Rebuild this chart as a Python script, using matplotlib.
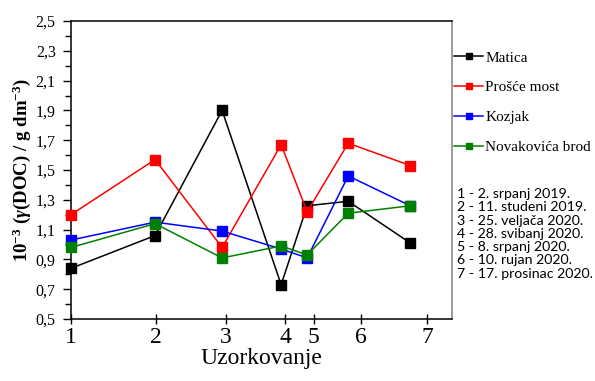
import matplotlib
matplotlib.use("Agg")
import matplotlib.pyplot as plt
from matplotlib.ticker import FixedLocator

plt.rcParams['font.family'] = ['Liberation Serif', 'DejaVu Serif']
plt.rcParams['mathtext.fontset'] = 'custom'
plt.rcParams['mathtext.rm'] = 'Liberation Serif:bold'
plt.rcParams['mathtext.it'] = 'Liberation Serif:bold:italic'
plt.rcParams['mathtext.bf'] = 'Liberation Serif:bold'

# sampling positions on the x axis (as drawn) and tick positions
sample_x = [1.0, 2.417, 3.547, 4.542, 4.981, 5.673, 6.719]
tick_x = [1.0, 2.434, 3.615, 4.615, 5.094, 5.880, 7.0]
tick_labels = ['1', '2', '3', '4', '5', '6', '7']
y_major = [0.5, 0.7, 0.9, 1.1, 1.3, 1.5, 1.7, 1.9, 2.1, 2.3, 2.5]
y_minor = [0.6, 0.8, 1.0, 1.2, 1.4, 1.6, 1.8, 2.0, 2.2, 2.4]
y_labels = ['0,5', '0,7', '0,9', '1,1', '1,3', '1,5', '1,7', '1,9', '2,1', '2,3', '2,5']

series_names = ['Matica', 'Prošće most', 'Kozjak', 'Novakovića brod']
matica = [0.84, 1.06, 1.90, 0.73, 1.26, 1.29, 1.01]
prosce = [1.20, 1.57, 0.98, 1.67, 1.22, 1.68, 1.53]
kozjak = [1.03, 1.15, 1.09, 0.97, 0.91, 1.46, 1.26]
novakovica = [0.98, 1.14, 0.91, 0.99, 0.93, 1.21, 1.26]
colors = ['black', '#ff0000', '#0000ff', '#008000']

dates = ['1 - 2. srpanj 2019.', '2 - 11. studeni 2019.', '3 - 25. veljača 2020.',
         '4 - 28. svibanj 2020.', '5 - 8. srpanj 2020.', '6 - 10. rujan 2020.',
         '7 - 17. prosinac 2020.']

W, H = 595, 381
fig = plt.figure(figsize=(W / 100, H / 100), dpi=100)
ax = fig.add_axes([71 / W, 1 - 319 / H, (452 - 71) / W, (319 - 21) / H])

handles = []
for name, vals, c in zip(series_names, [matica, prosce, kozjak, novakovica], colors):
    h, = ax.plot(sample_x, vals, color=c, lw=1.1, marker='s', ms=6.5,
                 mec=c, mfc=c, label=name, clip_on=False, zorder=3)
    handles.append(h)

ax.set_xlim(1.0, 7.422)
ax.set_ylim(0.5, 2.5)
ax.xaxis.set_major_locator(FixedLocator(tick_x))
ax.set_xticklabels(tick_labels)
ax.yaxis.set_major_locator(FixedLocator(y_major))
ax.yaxis.set_minor_locator(FixedLocator(y_minor))
ax.set_yticklabels(y_labels)

ax.tick_params(axis='x', direction='inout', length=7, width=1, labelsize=17, pad=2)
ax.tick_params(axis='y', which='major', direction='out', length=6, width=1, labelsize=11.5, pad=5)
ax.tick_params(axis='y', which='minor', direction='out', length=4, width=1)

for s in ['left', 'bottom', 'top']:
    ax.spines[s].set_color('black')
    ax.spines[s].set_linewidth(1.1)
ax.spines['right'].set_color('#808080')
ax.spines['right'].set_linewidth(1.1)

ax.set_xlabel('Uzorkovanje', fontsize=17, labelpad=0)
ax.set_ylabel(r'$\mathrm{10^{-3}\ (}\mathit{\gamma}\mathrm{(DOC)\ /\ g\ dm^{-3})}$',
              fontsize=13.5, labelpad=2)

fig.legend(handles=handles, loc='upper left', bbox_to_anchor=(454 / W, 1 - 51 / H),
           frameon=False, fontsize=11, handlelength=1.9, handletextpad=0.15,
           labelspacing=1.05, markerscale=0.75, borderaxespad=0, borderpad=0)

for i, d in enumerate(dates):
    fig.text(457 / W, 1 - (194 + i * 13.3) / H, d, fontsize=10.2, family='Lato',
             ha='left', va='center')

fig.savefig('out.png', dpi=100)
